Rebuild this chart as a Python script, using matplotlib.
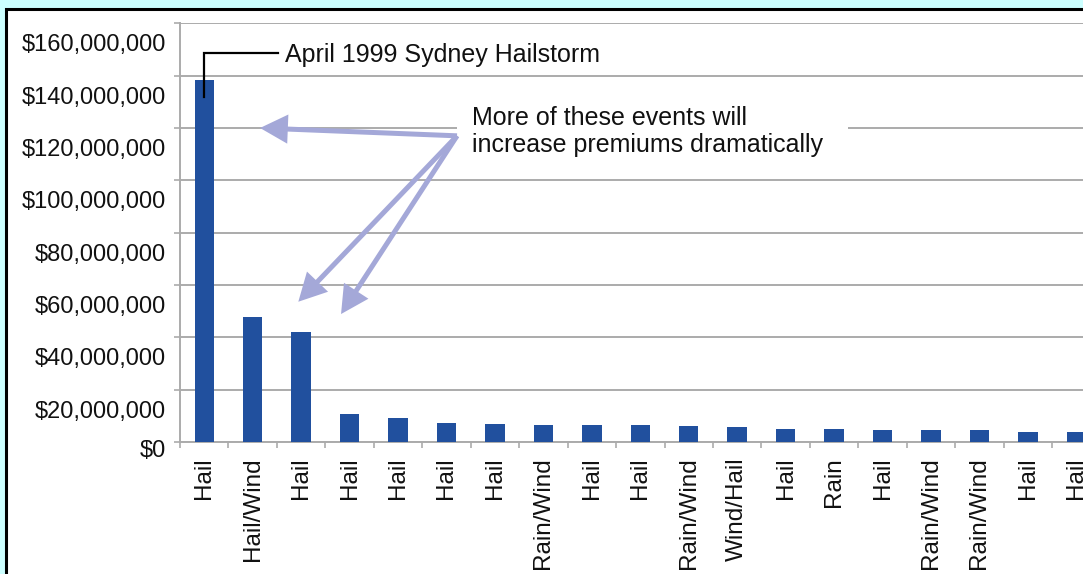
import matplotlib
matplotlib.use("Agg")
import matplotlib.pyplot as plt
from matplotlib.patches import Rectangle, FancyArrowPatch, ArrowStyle
from matplotlib.transforms import blended_transform_factory, ScaledTranslation

# Largest insured weather losses, in millions of dollars
categories = ["Hail", "Hail/Wind", "Hail", "Hail", "Hail", "Hail", "Hail",
              "Rain/Wind", "Hail", "Hail", "Rain/Wind", "Wind/Hail", "Hail",
              "Rain", "Hail", "Rain/Wind", "Rain/Wind", "Hail", "Hail"]
losses_musd = [138.4, 47.7, 42.0, 10.8, 9.1, 7.3, 6.9, 6.5, 6.5, 6.5,
               6.2, 5.6, 4.9, 5.0, 4.7, 4.6, 4.5, 3.95, 3.95]
yticks_musd = [0, 20, 40, 60, 80, 100, 120, 140, 160]
ytick_labels = ["$0", "$20,000,000", "$40,000,000", "$60,000,000",
                "$80,000,000", "$100,000,000", "$120,000,000",
                "$140,000,000", "$160,000,000"]

plt.rcParams['font.family'] = ['Liberation Sans', 'DejaVu Sans']

W, H = 1083, 574
fig = plt.figure(figsize=(W / 100, H / 100), dpi=100, facecolor='#ccffff')

# white panel with black frame
fig.add_artist(Rectangle((6 / W, -0.2), 1.2, 1 - 9 / H + 0.2,
                         transform=fig.transFigure, facecolor='white',
                         edgecolor='black', linewidth=2.2, zorder=-5))

ax = fig.add_axes([180 / W, 132 / H, 969 / W, 418.7 / H])
ax.set_facecolor('none')

grid_col = '#ababab'
bar_col = '#21509e'
arrow_col = '#a4a8d8'

x = list(range(len(categories)))
ax.bar(x, losses_musd, width=0.4, color=bar_col, zorder=3)

ax.set_xlim(-0.5, 19.5)
ax.set_ylim(0, 160)

# y grid + outward ticks, labels drawn separately
ax.set_yticks(yticks_musd)
ax.set_yticklabels([])
ax.yaxis.grid(True, color=grid_col, linewidth=1.4, zorder=0)
ax.tick_params(axis='y', direction='out', length=4.5, width=1.2, color=grid_col)
ax.set_axisbelow(True)

ylab_tr = blended_transform_factory(ax.transAxes, ax.transData)
for v, lab in zip(yticks_musd, ytick_labels):
    dy = 9 if v == 0 else 22
    tr = ylab_tr + ScaledTranslation(-14 / 100, -dy / 100, fig.dpi_scale_trans)
    ax.text(0, v, lab, transform=tr, ha='right', va='center',
            fontsize=17, color='#111111')

# x ticks: labels at bars, small marks between categories
ax.set_xticks(x)
ax.set_xticklabels(categories, rotation=90, fontsize=17.5, color='#111111',
                   ha='center', va='top')
ax.tick_params(axis='x', which='major', length=0, pad=11)
ax.set_xticks([i - 0.5 for i in range(len(categories) + 1)], minor=True)
ax.tick_params(axis='x', which='minor', direction='out', length=4,
               width=1.2, color=grid_col)

for s in ['top', 'right']:
    ax.spines[s].set_visible(False)
for s in ['left', 'bottom']:
    ax.spines[s].set_color(grid_col)
    ax.spines[s].set_linewidth(1.4)

# callout for the largest event
ax.plot([0, 0, 1.52], [131.9, 148.8, 148.8], color='black', lw=1.6,
        zorder=5, solid_joinstyle='miter')
ax.text(1.66, 145.2, "April 1999 Sydney Hailstorm", fontsize=18,
        ha='left', va='baseline', color='#111111', zorder=6)

# text block for the arrow callout, masking the grid behind it
ax.add_patch(Rectangle((5.218, 110), 13.29 - 5.218, 22, facecolor='white',
                       edgecolor='none', zorder=1))
ax.text(5.53, 121.0, "More of these events will", fontsize=18,
        ha='left', va='baseline', color='#111111', zorder=6)
ax.text(5.53, 111.0, "increase premiums dramatically", fontsize=18,
        ha='left', va='baseline', color='#111111', zorder=6)

tail = (5.218, 117.0)
for tip in [(1.152, 120.0), (1.942, 53.6), (2.824, 48.9)]:
    ax.add_patch(FancyArrowPatch(
        tail, tip,
        arrowstyle=ArrowStyle.Simple(head_length=1.0, head_width=1.05,
                                     tail_width=0.18),
        mutation_scale=20, color=arrow_col, lw=0,
        shrinkA=0, shrinkB=0, zorder=4))

fig.savefig("out.png", dpi=100, facecolor=fig.get_facecolor())
